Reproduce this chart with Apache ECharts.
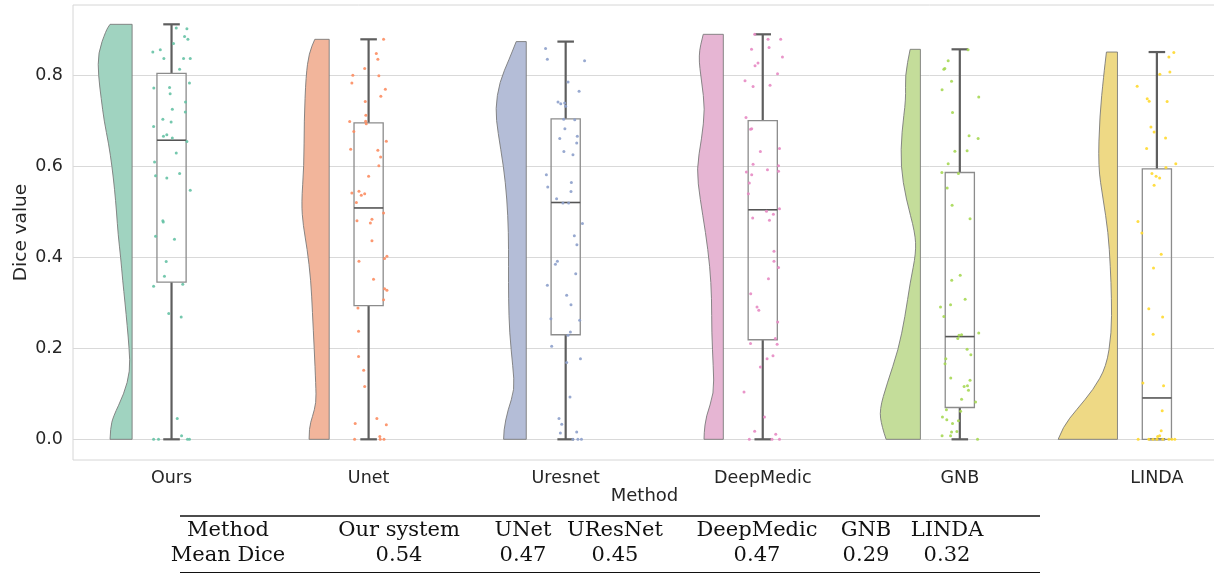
<!DOCTYPE html>
<html><head><meta charset="utf-8">
<script src="https://cdn.jsdelivr.net/npm/echarts@6/dist/echarts.min.js"></script>
<style>html,body{margin:0;padding:0;background:#fff}#c{width:1214px;height:574px}</style>
</head><body><div id="c"></div>
<script>
// ---------------- DATA ----------------
const categories = ['Ours', 'Unet', 'Uresnet', 'DeepMedic', 'GNB', 'LINDA'];
const yTicks = [0, 0.2, 0.4, 0.6, 0.8];
const yTickLabels = ['0.0', '0.2', '0.4', '0.6', '0.8'];

// box statistics: [lower whisker, Q1, median, Q3, upper whisker]
const boxOurs = [0, 0.346, 0.658, 0.805, 0.913];
const boxUnet = [0, 0.294, 0.509, 0.696, 0.880];
const boxUresnet = [0, 0.230, 0.521, 0.705, 0.875];
const boxDeepMedic = [0, 0.219, 0.505, 0.701, 0.891];
const boxGNB = [0, 0.070, 0.226, 0.587, 0.858];
const boxLINDA = [0, 0.0, 0.091, 0.595, 0.852];

// half-violin profile: [dice value, density half-width in category units]
const violinOurs = [[0,0.112],[0.025,0.110],[0.05,0.096],[0.1,0.041],[0.15,0.010],[0.2,0.015],[0.25,0.025],[0.3,0.036],[0.35,0.048],[0.4,0.058],[0.45,0.071],[0.5,0.079],[0.55,0.089],[0.6,0.102],[0.65,0.119],[0.7,0.142],[0.75,0.157],[0.8,0.171],[0.85,0.173],[0.9,0.132],[0.913,0.112]];
const violinUnet = [[0,0.102],[0.025,0.102],[0.05,0.085],[0.08,0.066],[0.12,0.068],[0.2,0.076],[0.28,0.085],[0.35,0.093],[0.42,0.112],[0.47,0.132],[0.52,0.141],[0.6,0.128],[0.7,0.127],[0.8,0.118],[0.85,0.102],[0.88,0.073]];
const violinUresnet = [[0,0.115],[0.02,0.115],[0.065,0.093],[0.109,0.059],[0.16,0.068],[0.234,0.085],[0.31,0.090],[0.38,0.090],[0.455,0.090],[0.529,0.098],[0.6,0.115],[0.676,0.144],[0.727,0.157],[0.786,0.136],[0.838,0.085],[0.875,0.051]];
const violinDeepMedic = [[0,0.098],[0.013,0.098],[0.05,0.088],[0.101,0.047],[0.16,0.051],[0.234,0.059],[0.31,0.059],[0.38,0.068],[0.455,0.090],[0.529,0.118],[0.595,0.136],[0.661,0.110],[0.727,0.093],[0.786,0.110],[0.845,0.127],[0.891,0.102]];
const violinGNB = [[0,0.174],[0.028,0.196],[0.065,0.208],[0.124,0.168],[0.197,0.112],[0.27,0.078],[0.345,0.052],[0.41,0.022],[0.455,0.027],[0.529,0.073],[0.6,0.100],[0.676,0.095],[0.749,0.073],[0.8,0.078],[0.858,0.052]];
const violinLINDA = [[0,0.301],[0.028,0.276],[0.065,0.208],[0.109,0.123],[0.16,0.056],[0.234,0.030],[0.31,0.030],[0.38,0.036],[0.455,0.047],[0.529,0.073],[0.6,0.098],[0.712,0.090],[0.8,0.070],[0.852,0.056]];

// jittered observations: [jitter in category units, dice value]
const pointsOurs = [[0.024,0.905],[0.078,0.903],[0.066,0.886],[0.083,0.880],[0.010,0.871],[-0.095,0.852],[-0.057,0.857],[-0.039,0.838],[0.061,0.838],[0.095,0.838],[0.041,0.814],[0.091,0.784],[-0.010,0.774],[-0.090,0.773],[-0.007,0.760],[0.071,0.742],[0.004,0.726],[0.070,0.720],[-0.044,0.704],[-0.002,0.698],[-0.091,0.688],[-0.041,0.667],[-0.024,0.670],[0.004,0.663],[0.078,0.655],[0.024,0.630],[-0.086,0.610],[-0.081,0.580],[0.041,0.585],[-0.024,0.575],[0.095,0.548],[-0.044,0.481],[-0.042,0.478],[-0.081,0.447],[0.015,0.440],[-0.027,0.391],[-0.036,0.359],[-0.091,0.337],[0.057,0.341],[-0.014,0.277],[0.049,0.269],[0.029,0.046],[0.051,0.008],[-0.091,0],[-0.066,0],[0.081,0],[0.091,0]];
const pointsUnet = [[0.076,0.880],[0.039,0.849],[0.047,0.836],[-0.020,0.816],[-0.080,0.801],[0.052,0.800],[-0.085,0.784],[0.085,0.770],[0.062,0.755],[-0.017,0.743],[-0.014,0.713],[-0.096,0.699],[-0.015,0.700],[-0.012,0.694],[-0.075,0.677],[0.090,0.656],[-0.091,0.638],[0.047,0.636],[0.061,0.621],[0.052,0.602],[0,0.579],[-0.085,0.542],[-0.049,0.546],[-0.037,0.537],[-0.020,0.540],[-0.062,0.521],[0.076,0.498],[-0.059,0.481],[0.017,0.484],[0.009,0.476],[0.017,0.437],[0.093,0.403],[0.081,0.398],[-0.049,0.392],[0.025,0.352],[0.081,0.331],[0.093,0.328],[0.076,0.307],[-0.054,0.289],[-0.051,0.238],[-0.051,0.182],[-0.025,0.152],[-0.020,0.116],[-0.068,0.035],[0.042,0.046],[0.090,0.032],[-0.071,0],[0.057,0.006],[0.059,0],[0.078,0]];
const pointsUresnet = [[-0.102,0.860],[-0.093,0.836],[0.096,0.833],[0.012,0.786],[0.068,0.766],[-0.039,0.742],[-0.025,0.738],[-0.005,0.740],[0,0.733],[-0.010,0.704],[0.046,0.703],[-0.004,0.683],[-0.030,0.662],[0.059,0.667],[0.056,0.652],[-0.009,0.633],[0.037,0.626],[-0.098,0.582],[-0.091,0.555],[0.029,0.565],[0.027,0.545],[-0.046,0.529],[-0.014,0.520],[0.015,0.520],[0.085,0.475],[0.044,0.448],[0.057,0.428],[-0.042,0.392],[-0.052,0.385],[0.051,0.364],[-0.093,0.339],[0.005,0.317],[0.027,0.296],[-0.075,0.265],[0.071,0.262],[0.024,0.236],[0.012,0.229],[-0.071,0.205],[0.075,0.177],[0.005,0.169],[0.022,0.093],[-0.034,0.046],[-0.020,0.033],[-0.027,0.014],[0.056,0.016],[0.037,0],[0.062,0],[0.080,0]];
const pointsDeepMedic = [[-0.041,0.891],[0.027,0.880],[0.091,0.880],[-0.057,0.858],[0.032,0.862],[0.100,0.841],[-0.039,0.822],[-0.024,0.828],[0.075,0.804],[-0.090,0.789],[-0.049,0.776],[0.037,0.779],[-0.085,0.708],[-0.062,0.682],[-0.056,0.683],[-0.012,0.633],[0.085,0.640],[-0.049,0.605],[0.024,0.593],[0.080,0.602],[0.080,0.590],[-0.083,0.588],[-0.056,0.582],[-0.068,0.564],[-0.073,0.540],[0.019,0.502],[0.054,0.495],[0.085,0.507],[-0.051,0.487],[0.034,0.482],[0.057,0.414],[0.057,0.392],[0.080,0.378],[0.029,0.353],[-0.061,0.320],[-0.029,0.291],[-0.020,0.284],[0.076,0.258],[0.064,0.222],[-0.062,0.211],[0.073,0.209],[0.052,0.184],[0.022,0.177],[-0.012,0.159],[-0.095,0.104],[0.009,0.049],[-0.041,0.018],[0.066,0.011],[-0.068,0],[0.047,0],[0.085,0]];
const pointsGNB = [[0.042,0.857],[-0.059,0.833],[-0.081,0.814],[-0.076,0.816],[-0.042,0.788],[-0.090,0.769],[0.096,0.753],[-0.037,0.719],[0.047,0.668],[0.093,0.662],[-0.025,0.634],[0.037,0.635],[-0.059,0.606],[-0.091,0.587],[-0.007,0.585],[-0.064,0.553],[-0.039,0.515],[0.052,0.485],[-0.041,0.350],[0.002,0.361],[0.027,0.308],[-0.098,0.291],[-0.047,0.296],[-0.081,0.270],[-0.004,0.229],[0.009,0.230],[-0.010,0.222],[0.096,0.234],[0.037,0.198],[0.056,0.186],[-0.071,0.177],[-0.075,0.166],[-0.046,0.135],[0.052,0.130],[0.039,0.118],[0.022,0.116],[0.044,0.108],[0.009,0.088],[0.080,0.082],[-0.068,0.065],[0.004,0.062],[-0.088,0.049],[-0.066,0.043],[-0.007,0.041],[-0.037,0.035],[-0.015,0.017],[-0.042,0.016],[-0.047,0.008],[-0.090,0.008],[0.090,0]];
const pointsLINDA = [[0.086,0.851],[0.061,0.841],[0.066,0.808],[0.015,0.803],[-0.100,0.777],[-0.049,0.749],[-0.039,0.744],[0.052,0.743],[-0.030,0.687],[-0.014,0.676],[0.044,0.663],[-0.052,0.640],[0.096,0.606],[0.046,0.598],[-0.025,0.585],[-0.004,0.579],[0.014,0.575],[-0.014,0.559],[-0.096,0.479],[-0.076,0.454],[0.022,0.407],[-0.017,0.377],[-0.041,0.287],[0.029,0.269],[-0.019,0.231],[-0.071,0.124],[0.034,0.118],[0.027,0.063],[0.022,0.019],[0.014,0.008],[0.004,0.006],[-0.095,0],[-0.041,0],[-0.020,0],[0,0],[0.030,0],[0.061,0],[0.076,0],[0.091,0]];

// summary table
const tableHeader = ['Method', 'Our system', 'UNet', 'UResNet', 'DeepMedic', 'GNB', 'LINDA'];
const tableMeanDice = ['Mean Dice', '0.54', '0.47', '0.45', '0.47', '0.29', '0.32'];

// ---------------- STYLE / LAYOUT ----------------
const pointColors = ['#66c2a5', '#fc8d62', '#8da0cb', '#e78ac3', '#a6d854', '#ffd92f'];
const violinColors = ['#a0d3c0', '#f2b59b', '#b4bdd7', '#e6b5d3', '#c4dd9a', '#eed985'];
const boxStats = [boxOurs, boxUnet, boxUresnet, boxDeepMedic, boxGNB, boxLINDA];
const violins = [violinOurs, violinUnet, violinUresnet, violinDeepMedic, violinGNB, violinLINDA];
const pointSets = [pointsOurs, pointsUnet, pointsUresnet, pointsDeepMedic, pointsGNB, pointsLINDA];

const VIOLIN_EDGE = -0.2, BOX_HALF = 0.074, CAP_HALF = 0.042;
const SANS = '"DejaVu Sans", sans-serif';
const SERIF = '"DejaVu Serif", "Liberation Serif", serif';
const tableCols = [228, 399, 523, 615, 757, 866, 947];

function violinItem(params, api) {
  const i = params.dataIndex;
  const prof = violins[i];
  const edge = i + VIOLIN_EDGE;
  const pts = prof.map(p => api.coord([edge - p[1], p[0]]));
  const b = api.coord([edge, prof[0][0]]);
  const t = api.coord([edge, prof[prof.length - 1][0]]);
  let d = 'M' + b[0] + ',' + b[1] + ' L' + pts[0][0] + ',' + pts[0][1];
  for (let k = 1; k < pts.length - 1; k++) {
    const mx = (pts[k][0] + pts[k + 1][0]) / 2, my = (pts[k][1] + pts[k + 1][1]) / 2;
    d += ' Q' + pts[k][0] + ',' + pts[k][1] + ' ' + mx + ',' + my;
  }
  const last = pts[pts.length - 1];
  d += ' L' + last[0] + ',' + last[1] + ' L' + t[0] + ',' + t[1] + ' Z';
  return { type: 'path', shape: { pathData: d },
    style: { fill: violinColors[i], stroke: '#7a7a7a', lineWidth: 0.9 } };
}

function boxItem(params, api) {
  const i = params.dataIndex;
  const s = boxStats[i];
  const c = (v, dx) => api.coord([i + dx, v]);
  const tl = c(s[3], -BOX_HALF), br = c(s[1], BOX_HALF);
  const whisk = { stroke: '#5e5e5e', lineWidth: 2.2 };
  const ln = (a, b, st) => ({ type: 'line', shape: { x1: a[0], y1: a[1], x2: b[0], y2: b[1] }, style: st });
  return { type: 'group', children: [
    ln(c(s[3], 0), c(s[4], 0), whisk),
    ln(c(s[1], 0), c(s[0], 0), whisk),
    ln(c(s[4], -CAP_HALF), c(s[4], CAP_HALF), whisk),
    ln(c(s[0], -CAP_HALF), c(s[0], CAP_HALF), whisk),
    { type: 'rect', shape: { x: tl[0], y: tl[1], width: br[0] - tl[0], height: br[1] - tl[1] },
      style: { fill: 'rgba(255,255,255,0)', stroke: '#8c8c8c', lineWidth: 1.3 } },
    ln(c(s[2], -BOX_HALF), c(s[2], BOX_HALF), { stroke: '#555555', lineWidth: 1.6 })
  ] };
}

const series = [
  { type: 'custom', renderItem: violinItem, data: categories.map((c, i) => [i, 0]), encode: { x: 0, y: 1 }, z: 2, silent: true },
  { type: 'custom', renderItem: boxItem, data: categories.map((c, i) => [i, 0]), encode: { x: 0, y: 1 }, z: 3, silent: true }
];
pointSets.forEach((pts, i) => {
  series.push({ type: 'scatter', symbol: 'circle', symbolSize: 3, z: 4, silent: true,
    itemStyle: { color: pointColors[i], opacity: 0.9 },
    data: pts.map(p => [i + p[0], p[1]]) });
});

const graphic = [];
const ruleLeft = 180, ruleRight = 1040;
graphic.push({ type: 'line', shape: { x1: ruleLeft, y1: 516, x2: ruleRight, y2: 516 }, style: { stroke: '#111', lineWidth: 1.6 } });
graphic.push({ type: 'line', shape: { x1: ruleLeft, y1: 572.5, x2: ruleRight, y2: 572.5 }, style: { stroke: '#111', lineWidth: 1.2 } });
[tableHeader, tableMeanDice].forEach((row, r) => {
  row.forEach((txt, k) => {
    graphic.push({ type: 'text', x: tableCols[k], y: 531 + r * 25,
      style: { text: txt, font: '21px ' + SERIF, fill: '#111', align: 'center', verticalAlign: 'middle', textAlign: 'center', textVerticalAlign: 'middle' } });
  });
});

const chart = echarts.init(document.getElementById('c'), null, { renderer: 'canvas' });
chart.setOption({
  animation: false,
  backgroundColor: '#ffffff',
  grid: { left: 73, top: 5, width: 1143, height: 455, show: true, borderColor: '#d6d6d6', borderWidth: 1,
    containLabel: false, outerBoundsMode: 'none' },
  xAxis: {
    type: 'value', min: -0.5, max: 5.3,
    axisLine: { show: false }, splitLine: { show: false },
    axisTick: { show: false, customValues: [0, 1, 2, 3, 4, 5] },
    axisLabel: { customValues: [0, 1, 2, 3, 4, 5], formatter: v => categories[Math.round(v)], margin: 9,
      color: '#262626', fontSize: 17.5, fontFamily: SANS },
    name: 'Method', nameLocation: 'middle', nameGap: 27, nameMoveOverlap: false,
    nameTextStyle: { color: '#262626', fontSize: 18, fontFamily: SANS }
  },
  yAxis: {
    type: 'value', min: -0.0455, max: 0.9555,
    axisLine: { show: false },
    axisTick: { show: false, customValues: yTicks },
    axisLabel: { customValues: yTicks, formatter: v => yTickLabels[yTicks.findIndex(t => Math.abs(t - v) < 1e-6)], margin: 10,
      color: '#262626', fontSize: 17.5, fontFamily: SANS },
    splitLine: { show: true, lineStyle: { color: '#d9d9d9', width: 1 } },
    name: 'Dice value', nameLocation: 'middle', nameGap: 42, nameRotate: 90, nameMoveOverlap: false,
    nameTextStyle: { color: '#262626', fontSize: 18.5, fontFamily: SANS }
  },
  series: series,
  graphic: graphic
});
</script></body></html>
